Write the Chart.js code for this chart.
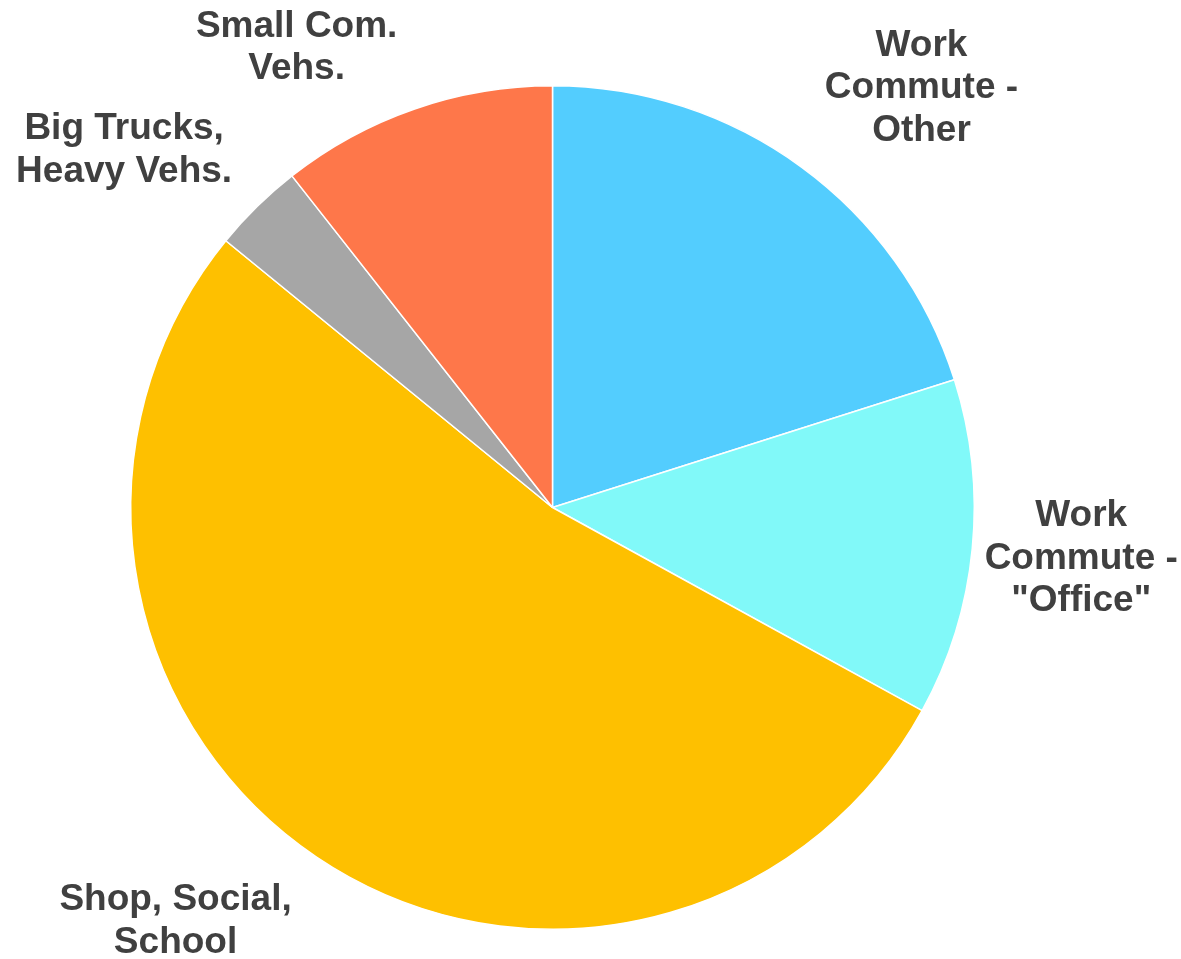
<!DOCTYPE html>
<html>
<head>
<meta charset="utf-8">
<script src="https://cdn.jsdelivr.net/npm/chart.js@4/dist/chart.umd.min.js"></script>
<style>
  html, body { margin: 0; padding: 0; background: #ffffff; }
  #wrap { width: 1181px; height: 959px; position: relative; }
</style>
</head>
<body>
<div id="wrap"><canvas id="pie"></canvas></div>
<script>
// Trip categories, each label split into its display lines
const categories = [
  ['Work', 'Commute -', 'Other'],
  ['Work', 'Commute -', '"Office"'],
  ['Shop, Social,', 'School'],
  ['Big Trucks,', 'Heavy Vehs.'],
  ['Small Com.', 'Vehs.']
];
// Share of travel (%)
const shares = [20.1, 12.9, 52.9, 3.5, 10.6];
const sliceColors = ['#53CDFE', '#81F9F9', '#FEC000', '#A6A6A6', '#FE774A'];

// Label placement: offset (px) from the point where each slice's mid-angle meets the rim
const labelOffsets = [
  [120, -79],
  [109, 10],
  [-141, 64],
  [-133, -56],
  [-118, -61]
];

const outsideLabels = {
  id: 'outsideLabels',
  afterDraw(chart) {
    const ctx = chart.ctx;
    const meta = chart.getDatasetMeta(0);
    ctx.save();
    ctx.font = 'bold 37px "Liberation Sans", Arial, sans-serif';
    ctx.fillStyle = '#404040';
    ctx.textAlign = 'center';
    ctx.textBaseline = 'middle';
    const lineH = 42.5;
    meta.data.forEach((arc, i) => {
      const p = arc.getProps(['x', 'y', 'startAngle', 'endAngle', 'outerRadius'], true);
      const mid = (p.startAngle + p.endAngle) / 2;
      const ax = p.x + Math.cos(mid) * p.outerRadius + labelOffsets[i][0];
      const ay = p.y + Math.sin(mid) * p.outerRadius + labelOffsets[i][1];
      const lines = categories[i];
      const top = ay - (lines.length - 1) * lineH / 2;
      lines.forEach((t, k) => ctx.fillText(t, ax, top + k * lineH));
    });
    ctx.restore();
  }
};

new Chart(document.getElementById('pie'), {
  type: 'pie',
  data: {
    labels: categories.map(l => l.join(' ')),
    datasets: [{
      data: shares,
      backgroundColor: sliceColors,
      borderColor: '#ffffff',
      borderWidth: 1.5
    }]
  },
  options: {
    responsive: true,
    maintainAspectRatio: false,
    animation: false,
    layout: { padding: { top: 85, bottom: 29, left: 130, right: 206 } },
    plugins: {
      legend: { display: false },
      tooltip: { enabled: false }
    }
  },
  plugins: [outsideLabels]
});
</script>
</body>
</html>
